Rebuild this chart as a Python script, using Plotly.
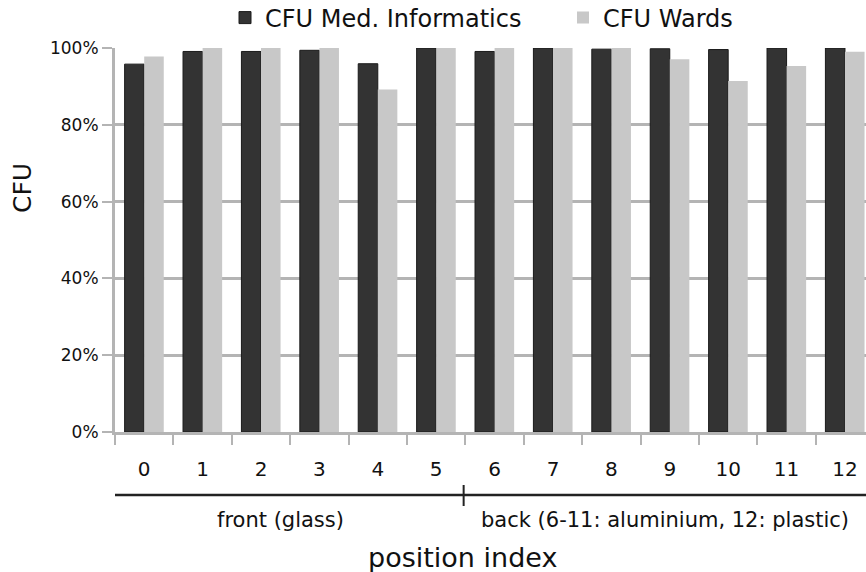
import plotly.graph_objects as go

positions = [str(i) for i in range(13)]
cfu_med_informatics = [95.8, 99.1, 99.1, 99.4, 95.9, 100.0, 99.1, 100.0, 99.7, 99.8, 99.6, 100.0, 100.0]
cfu_wards = [97.8, 100.0, 100.0, 100.0, 89.2, 100.0, 100.0, 100.0, 100.0, 97.1, 91.4, 95.3, 99.0]
y_ticks = [0, 20, 40, 60, 80, 100]
group_labels = ["front (glass)", "back (6-11: aluminium, 12: plastic)"]

FONT = "DejaVu Sans, sans-serif"
GRID = "#b4b4b4"

L, T, B = 115, 48, 140
W, H = 866, 572
PW, PH = W - L, H - T - B


def px_x(px):
    return (px - L) / PW


def px_y(py):
    return (H - B - py) / PH


fig = go.Figure()
fig.add_trace(go.Bar(x=positions, y=cfu_med_informatics, name="CFU Med. Informatics",
                     legend="legend",
                     marker=dict(color="#333333", line=dict(color="#1a1a1a", width=1))))
fig.add_trace(go.Bar(x=positions, y=cfu_wards, name="CFU Wards", legend="legend2",
                     marker=dict(color="#c8c8c8", line=dict(width=0))))

leg_common = dict(orientation="h", xanchor="left", yanchor="middle",
                  font=dict(size=24, family=FONT), bgcolor="rgba(0,0,0,0)")

fig.update_layout(
    width=W, height=H,
    margin=dict(l=L, r=0, t=T, b=B, autoexpand=False),
    paper_bgcolor="white", plot_bgcolor="white",
    font=dict(family=FONT, color="#111111"),
    barmode="group", bargap=0.33, bargroupgap=0,
    showlegend=True,
    legend=dict(x=px_x(225), y=px_y(18), **leg_common),
    legend2=dict(x=px_x(563), y=px_y(18), **leg_common),
    xaxis=dict(type="category", range=[-0.5, 12.36], tickson="boundaries",
               ticks="outside", ticklen=10, tickwidth=2, tickcolor=GRID,
               showline=True, linecolor=GRID, linewidth=3, automargin=False,
               ticklabelstandoff=17,
               showgrid=False, tickfont=dict(size=20, family=FONT)),
    yaxis=dict(range=[0, 100], tickvals=y_ticks, ticktext=[f"{v}%" for v in y_ticks],
               ticks="outside", ticklen=10, tickwidth=2, tickcolor=GRID,
               showline=True, linecolor=GRID, linewidth=3, automargin=False,
               showgrid=True, gridcolor=GRID, gridwidth=3, zeroline=False,
               tickfont=dict(size=17, family=FONT)),
)

# bracket under the axis
by = px_y(495)
fig.add_shape(type="line", xref="x", yref="paper", x0=-0.53, x1=12.36, y0=by, y1=by,
              line=dict(color="#222222", width=2.5))
for xb in [-0.53, 5.47]:
    fig.add_shape(type="line", xref="x", yref="paper", x0=xb, x1=xb,
                  y0=px_y(485), y1=px_y(506), line=dict(color="#222222", width=2))

fig.add_annotation(x=px_x(280), xref="paper", y=px_y(520), yref="paper", text=group_labels[0],
                   showarrow=False, font=dict(size=21, family=FONT),
                   xanchor="center", yanchor="middle")
fig.add_annotation(x=px_x(665), xref="paper", y=px_y(520), yref="paper", text=group_labels[1],
                   showarrow=False, font=dict(size=21, family=FONT),
                   xanchor="center", yanchor="middle")

fig.add_annotation(x=px_x(462), xref="paper", y=px_y(557), yref="paper", text="position index",
                   showarrow=False, font=dict(size=27, family=FONT),
                   xanchor="center", yanchor="middle")

fig.add_annotation(x=px_x(22), xref="paper", y=px_y(188), yref="paper",
                   text="CFU", textangle=-90, showarrow=False,
                   font=dict(size=25, family=FONT), xanchor="center", yanchor="middle")

fig.write_html("out.html", post_script="document.body.style.margin='0px';",
               config={"displayModeBar": False})
